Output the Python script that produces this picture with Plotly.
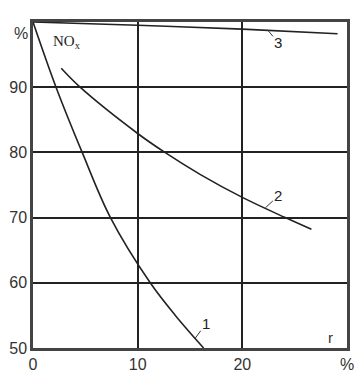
import plotly.graph_objects as go

# Data
x1 = [0, 2.2, 4.7, 7.4, 11.2, 13.6, 16.3]
y1 = [100, 90, 80, 70, 60, 55.0, 50]

x2 = [2.7, 4.5, 10.0, 12.6, 16.0, 20.0, 24.1, 26.6]
y2 = [92.9, 90, 82.9, 80, 76.6, 73.1, 70, 68.2]

x3 = [0, 10, 20, 29.1]
y3 = [100, 99.5, 98.9, 98.2]

xticks = [0, 10, 20, 30]
xticktext = ["0", "10", "20", "%"]
yticks = [50, 60, 70, 80, 90]
yticktext = ["50", "60", "70", "80", "90"]

line_style = dict(color="#222222", width=1.6, shape="spline", smoothing=1.0)

fig = go.Figure()
for xs, ys in [(x1, y1), (x2, y2), (x3, y3)]:
    fig.add_trace(go.Scatter(x=xs, y=ys, mode="lines", line=line_style,
                             showlegend=False, hoverinfo="skip"))

font_sans = dict(family="Liberation Sans, Arial, sans-serif", size=16, color="#333333")

fig.update_layout(
    width=356, height=375,
    margin=dict(l=33, r=9, t=22, b=27),
    paper_bgcolor="white", plot_bgcolor="white",
    font=font_sans,
    xaxis=dict(range=[0, 30], tickvals=xticks, ticktext=xticktext,
               showgrid=True, gridcolor="#222222", gridwidth=1.5,
               showline=True, linecolor="#444444", linewidth=2.5, mirror=True,
               ticks="", zeroline=False, tickfont=font_sans, automargin=False),
    yaxis=dict(range=[50, 100], tickvals=yticks, ticktext=yticktext,
               showgrid=True, gridcolor="#222222", gridwidth=1.5,
               showline=True, linecolor="#444444", linewidth=2.5, mirror=True,
               ticks="", zeroline=False, tickfont=font_sans, automargin=False),
)

# axis unit labels and text
fig.add_annotation(text="%", xref="paper", yref="paper", x=-0.01, y=0.965,
                   xanchor="right", yanchor="middle", showarrow=False, font=font_sans)
fig.add_annotation(text="NO<sub>x</sub>", xref="x", yref="y", x=1.7, y=97.0,
                   xanchor="left", yanchor="middle", showarrow=False,
                   font=dict(family="Liberation Serif, Times New Roman, serif", size=15, color="#222222"))
fig.add_annotation(text="r", xref="x", yref="y", x=28.4, y=51.6,
                   xanchor="center", yanchor="middle", showarrow=False,
                   font=dict(family="Liberation Sans, Arial, sans-serif", size=15, color="#333333"))

# curve labels with leader lines
label_font = dict(family="Liberation Sans, Arial, sans-serif", size=15, color="#222222")
for lab, xx, yy, ax, ay in [("3", 22.4, 98.8, 11, 13),
                             ("2", 22.2, 71.5, 13, -12),
                             ("1", 15.5, 51.5, 11, -15)]:
    fig.add_annotation(text=lab, x=xx, y=yy, xref="x", yref="y",
                       ax=ax, ay=ay, showarrow=True, arrowhead=0,
                       arrowwidth=1, arrowcolor="#333333", font=label_font)

fig.write_html("out.html", config={"displayModeBar": False},
               post_script="document.body.style.margin='0';document.body.style.overflow='hidden';")
